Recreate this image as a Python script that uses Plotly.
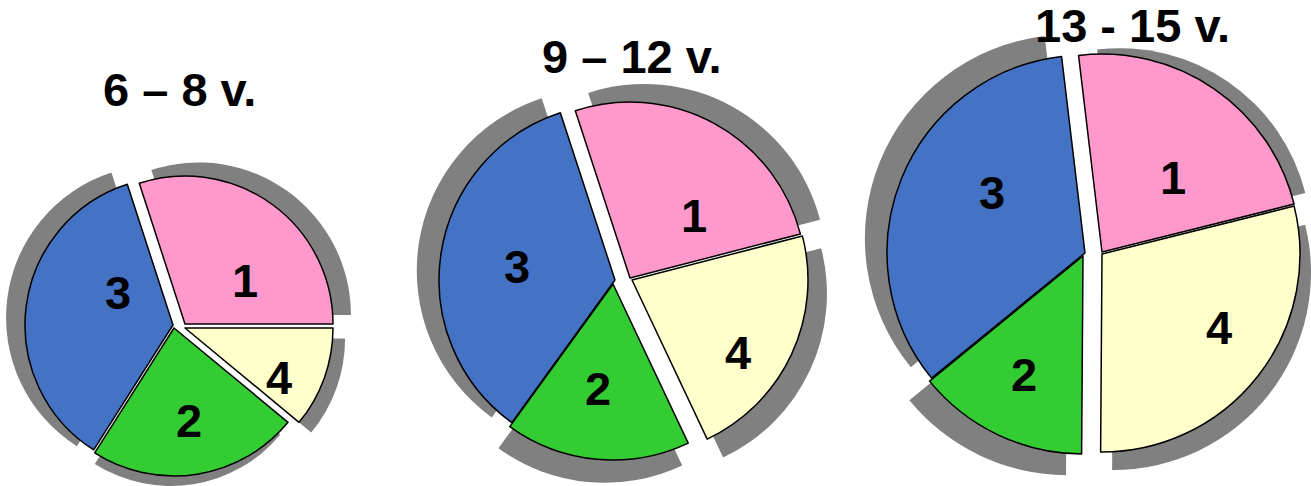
import math
import plotly.graph_objects as go

W, H = 1311, 486

# ---- data -------------------------------------------------------------
categories = ["1", "2", "3", "4"]
titles = ["6 – 8 v.", "9 – 12 v.", "13 - 15 v."]
values_6_8 = [30, 23, 36, 11]
values_9_12 = [26, 17, 35, 22]
values_13_15 = [23, 14, 34, 29]
all_values = [values_6_8, values_9_12, values_13_15]

# ---- style ------------------------------------------------------------
COLORS = {"1": "#FF99CC", "2": "#33CC33", "3": "#4472C4", "4": "#FFFFCC"}
SHADOW = "#808080"
CLEAR = "rgba(0,0,0,0)"
FONT = "Liberation Sans, Arial, sans-serif"
FONT_SIZE = 47
DRAW_ORDER = ["4", "2", "3", "1"]  # clockwise from the start angle

# pixel placement of each pie (center, radius, start angle of slice 4 in math degrees,
# small per-slice explode offsets, label placement as (radius fraction, angle shift
# from the slice bisector)) and of each title
PIES = [
    dict(cx=173, cy=325, r=148, start=0,
         offsets={"1": (12, -1), "2": (1, 3), "3": (0, 0), "4": (12, 3)},
         labels={"1": (0.50, -18), "2": (0.63, 0), "3": (0.43, -23), "4": (0.72, -8)},
         title=(179, 89)),
    dict(cx=615, cy=280, r=176, start=14.5,
         offsets={"1": (15, -2), "2": (-2, 4), "3": (0, 0), "4": (17, 0)},
         labels={"1": (0.51, -17), "2": (0.60, -3), "3": (0.56, 1), "4": (0.73, -9)},
         title=(631, 57)),
    dict(cx=1085, cy=253, r=198, start=14,
         offsets={"1": (17, -1), "2": (-2, 3), "3": (0, 0), "4": (17, 1)},
         labels={"1": (0.52, -9), "2": (0.67, -1), "3": (0.56, -11), "4": (0.70, 6)},
         title=(1132, 25)),
]
SHADOW_SHIFT = 0.11   # fraction of radius
SHADOW_BIAS = -20     # degrees, clockwise bias of the shadow direction
SHADOW_SCALE = 1.03


def domain(cx, cy, r):
    r = min(r, cx, W - cx, cy, H - cy)
    x0 = max(0.0, (cx - r) / W)
    x1 = min(1.0, (cx + r) / W)
    y0 = max(0.0, (H - cy - r) / H)
    y1 = min(1.0, (H - cy + r) / H)
    return dict(x=[x0, x1], y=[y0, y1])


fig = go.Figure()
shadow_traces, main_traces, label_annots = [], [], []

for vals, pie in zip(all_values, PIES):
    vmap = dict(zip(categories, vals))
    ordered = [vmap[c] for c in DRAW_ORDER]
    total = float(sum(ordered))
    cum = 0.0
    for cat in DRAW_ORDER:
        span = 360.0 * vmap[cat] / total
        bis = pie["start"] - (cum + span / 2.0)
        cum += span
        ox, oy = pie["offsets"][cat]
        cx, cy = pie["cx"] + ox, pie["cy"] + oy

        # shadow copy, pushed outwards
        ang = math.radians(bis + SHADOW_BIAS)
        mag = SHADOW_SHIFT * pie["r"]
        sx, sy = cx + mag * math.cos(ang), cy - mag * math.sin(ang)
        common = dict(
            values=ordered, labels=DRAW_ORDER, sort=False, direction="clockwise",
            rotation=90 - pie["start"], hoverinfo="skip", showlegend=False,
            textinfo="none",
        )
        shadow_traces.append(go.Pie(
            **common,
            domain=domain(sx, sy, pie["r"] * SHADOW_SCALE),
            marker=dict(colors=[SHADOW if c == cat else CLEAR for c in DRAW_ORDER],
                        line=dict(width=0)),
        ))
        main_traces.append(go.Pie(
            **common,
            domain=domain(cx, cy, pie["r"]),
            marker=dict(colors=[COLORS[c] if c == cat else CLEAR for c in DRAW_ORDER],
                        line=dict(color=["black" if c == cat else CLEAR for c in DRAW_ORDER],
                                  width=[1.5 if c == cat else 0 for c in DRAW_ORDER])),
        ))

        # slice label
        lf, lshift = pie["labels"][cat]
        la = math.radians(bis + lshift)
        lx = cx + lf * pie["r"] * math.cos(la)
        ly = cy - lf * pie["r"] * math.sin(la)
        label_annots.append(dict(
            text=cat, xref="paper", yref="paper", x=lx / W, y=1 - ly / H,
            xanchor="center", yanchor="middle", showarrow=False,
            font=dict(family=FONT, size=FONT_SIZE, color="black", weight="bold"),
        ))

for t in shadow_traces + main_traces:
    fig.add_trace(t)

for a in label_annots:
    fig.add_annotation(**a)

for title, pie in zip(titles, PIES):
    tx, ty = pie["title"]
    fig.add_annotation(
        text=title, xref="paper", yref="paper", x=tx / W, y=1 - ty / H,
        xanchor="center", yanchor="middle", showarrow=False,
        font=dict(family=FONT, size=FONT_SIZE, color="black", weight="bold"),
    )

fig.update_layout(
    width=W, height=H, margin=dict(l=0, r=0, t=0, b=0, pad=0),
    paper_bgcolor="white", plot_bgcolor="white",
)
fig.write_html(
    "out.html",
    config={"displayModeBar": False},
    post_script="document.body.style.margin='0';document.body.style.overflow='hidden';",
)
